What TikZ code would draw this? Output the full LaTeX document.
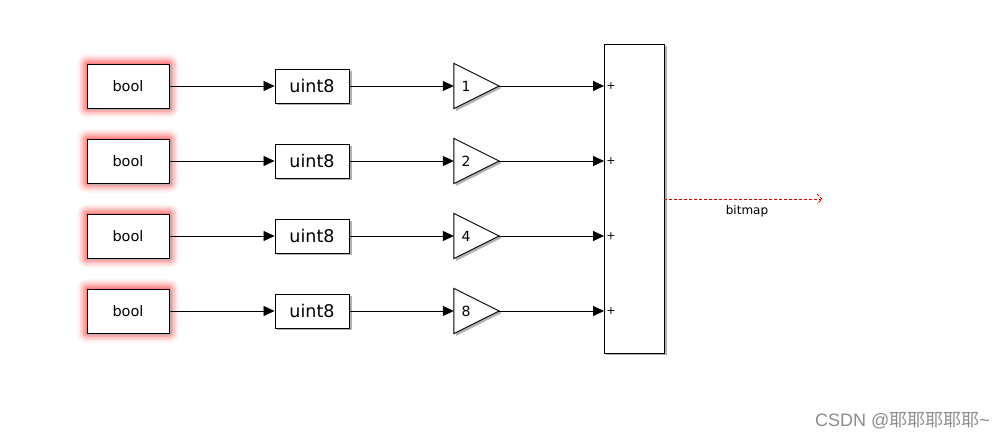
\documentclass[tikz,border=0pt]{standalone}
\usepackage{fontspec}
\setmainfont{DejaVu Sans}
\newfontfamily\cjk{Noto Sans CJK SC}
\newfontfamily\wmfont{Liberation Sans}
\usetikzlibrary{arrows.meta}
\tikzset{
  blk/.style={draw=black, line width=0.9pt, fill=white, inner sep=0pt},
  boolbox/.style={blk, minimum width=82pt, minimum height=44pt, font=\fontsize{14.5}{16}\selectfont},
  convbox/.style={blk, minimum width=74pt, minimum height=34pt, font=\fontsize{17.5}{19}\selectfont},
  gainnode/.style={inner sep=0pt, minimum width=45pt, minimum height=45pt},
  sig/.style={line width=0.8pt, -{Triangle[length=11pt,width=10pt]}},
  plus/.style={font=\fontsize{11}{12}\selectfont, inner sep=0pt},
}
\begin{document}
\begin{tikzpicture}[x=1pt,y=1pt]
\useasboundingbox (0,0) rectangle (1004,438);
\fill[white] (0,0) rectangle (1004,438);
% red glows behind bool blocks
\foreach \yy in {352,277,202,127}{
  \foreach \m/\op in {10/0.035,8.5/0.05,7/0.07,5.5/0.09,4/0.11,2.5/0.13,1/0.15}{
    \fill[red, opacity=\op, rounded corners=\m pt] (128-41-\m,\yy-22-\m) rectangle (128+41+\m,\yy+22+\m);
  }
}
% drop shadows
\foreach \yy in {352,277,202,127}{
  \fill[black!30] (128-41+2,\yy-22-2.5) rectangle (128+41+2.5,\yy+22-2);
  \fill[black!30] (312-37+2,\yy-17-2.5) rectangle (312+37+2.5,\yy+17-2);
  \fill[black!30] (454+2,\yy+22.5-2) -- (499+2.5,\yy-2) -- (454+2,\yy-22.5-2.5) -- cycle;
}
\fill[black!30] (604+2,85-2.5) rectangle (664+2.5,394-2);
% bool blocks
\node[boolbox] (b1) at (128,352) {bool};
\node[boolbox] (b2) at (128,277) {bool};
\node[boolbox] (b3) at (128,202) {bool};
\node[boolbox] (b4) at (128,127) {bool};
% conversion blocks
\node[convbox] (c1) at (312,352) {uint8};
\node[convbox] (c2) at (312,277) {uint8};
\node[convbox] (c3) at (312,202) {uint8};
\node[convbox] (c4) at (312,127) {uint8};
% gain blocks
\foreach \i/\yy/\k in {1/352/1,2/277/2,3/202/4,4/127/8}{
  \node[gainnode] (g\i) at (476.5,\yy) {};
  \draw[line width=0.9pt, fill=white] (g\i.north west) -- (g\i.east) -- (g\i.south west) -- cycle;
  \node[font=\fontsize{14}{16}\selectfont, inner sep=0pt] (gl\i) at (466,\yy) {\k};
}
% sum block
\node[blk, minimum width=60pt, minimum height=309pt] (sum) at (634,239.5) {};
\coordinate (s1) at (604,352);
\coordinate (s2) at (604,277);
\coordinate (s3) at (604,202);
\coordinate (s4) at (604,127);
\foreach \i in {1,2,3,4}{
  \node[plus] (p\i) at ([xshift=7pt]s\i) {+};
  \draw[sig] (b\i.east) -- (c\i.west);
  \draw[sig] (c\i.east) -- (g\i.west);
  \draw[sig] (g\i.east) -- (s\i);
}
% output
\coordinate (out) at (822,239);
\draw[red!85!black, line width=0.7pt, dash pattern=on 3pt off 2pt] (sum.east |- out) -- ([xshift=-1pt]out);
\draw[red!85!black, line width=0.8pt, dash pattern=on 3pt off 1.5pt] ([xshift=-5pt,yshift=5pt]out) -- (out) -- ([xshift=-5pt,yshift=-5pt]out);
\node[font=\fontsize{12}{13}\selectfont, inner sep=0pt] (lbl) at (747,227) {bitmap};
% watermark
\node[anchor=east, text=black!45, font=\wmfont\fontsize{18}{20}\selectfont, inner sep=0pt] (wm) at (990,17) {CSDN @{\cjk 耶耶耶耶耶}\textasciitilde};
\end{tikzpicture}
\end{document}
